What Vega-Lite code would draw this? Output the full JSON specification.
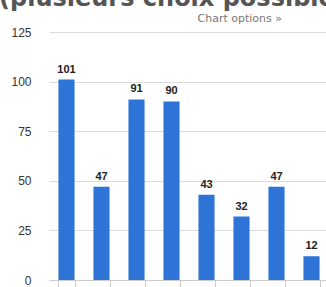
{
  "$schema": "https://vega.github.io/schema/vega-lite/v6.json",
  "autosize": {"type": "none"},
  "padding": {"left": 49, "top": 32, "right": 0, "bottom": 7},
  "width": 280,
  "height": 248,
  "background": "white",
  "title": {
    "text": "(plusieurs choix possibles)",
    "anchor": "start",
    "frame": "group",
    "font": "DejaVu Sans",
    "fontSize": 24,
    "fontWeight": "bold",
    "color": "#555555",
    "baseline": "alphabetic",
    "offset": 0,
    "dx": -50,
    "dy": 18
  },
  "data": {
    "values": [
      {"option": "1", "count": 101},
      {"option": "2", "count": 47},
      {"option": "3", "count": 91},
      {"option": "4", "count": 90},
      {"option": "5", "count": 43},
      {"option": "6", "count": 32},
      {"option": "7", "count": 47},
      {"option": "8", "count": 12}
    ]
  },
  "config": {
    "view": {"stroke": null},
    "axis": {"labelFont": "Liberation Sans", "titleFont": "DejaVu Sans"}
  },
  "encoding": {
    "x": {
      "field": "option",
      "type": "nominal",
      "sort": null,
      "scale": {"paddingInner": 0.54, "paddingOuter": 0.27}
    },
    "y": {
      "field": "count",
      "type": "quantitative",
      "scale": {"domain": [0, 125], "nice": false},
      "axis": {
        "values": [0, 25, 50, 75, 100, 125],
        "title": null,
        "ticks": false,
        "domain": false,
        "grid": true,
        "gridColor": "#dcdcdc",
        "labelFontSize": 12,
        "labelColor": "#333333",
        "labelPadding": 18
      }
    }
  },
  "layer": [
    {
      "mark": {"type": "bar", "color": "#2d74d6"},
      "encoding": {
        "x": {
          "field": "option",
          "type": "nominal",
          "sort": null,
          "axis": {
            "orient": "bottom",
            "title": null,
            "labels": false,
            "tickBand": "extent",
            "tickSize": 7,
            "tickColor": "#cccccc",
            "domainColor": "#cccccc",
            "grid": false
          }
        }
      }
    },
    {
      "mark": {
        "type": "text",
        "dy": -7,
        "baseline": "alphabetic",
        "font": "Liberation Sans",
        "fontSize": 11,
        "fontWeight": "bold",
        "color": "#222222"
      },
      "encoding": {
        "x": {
          "field": "option",
          "type": "nominal",
          "sort": null,
          "axis": {
            "orient": "top",
            "title": "Chart options »",
            "titleFont": "DejaVu Sans",
            "titleFontSize": 11,
            "titleFontWeight": "normal",
            "titleColor": "#777777",
            "titleAnchor": "start",
            "titleAlign": "left",
            "titleBaseline": "alphabetic",
            "titleX": 148,
            "titleY": -11,
            "labels": false,
            "ticks": false,
            "domain": false,
            "grid": false
          }
        },
        "text": {"field": "count", "type": "quantitative"}
      }
    }
  ],
  "resolve": {"axis": {"x": "independent"}}
}
